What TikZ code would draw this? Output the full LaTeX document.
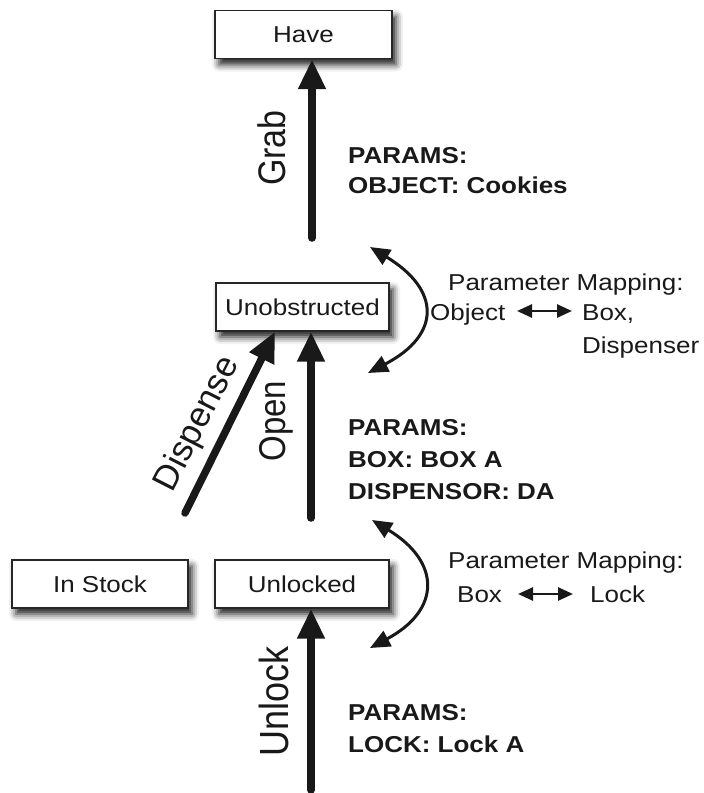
\documentclass[tikz,border=0pt]{standalone}
\usepackage{fontspec}
\setmainfont{Liberation Sans}[FakeStretch=1.13]
\newfontfamily\labelfont{Liberation Sans}
\usetikzlibrary{arrows.meta,shadows.blur,calc}

% upright action names are set a little wider across their own height
\newcommand{\actname}[1]{\scalebox{1}[1.13]{#1}}

\begin{document}
\begin{tikzpicture}[x=1pt,y=-1pt,
  state/.style={draw=black!85, line width=1.3pt, fill=white, minimum height=48pt,
    inner sep=0pt, text=black!90, font=\fontsize{23}{27}\selectfont,
    blur shadow={shadow xshift=4pt, shadow yshift=-6pt, shadow blur radius=7pt, shadow opacity=90}},
  bigarrow/.style={line width=7.5pt, draw=black!90, line cap=round, -{Triangle[width=26pt,length=30pt]}},
  maparrow/.style={line width=3pt, draw=black!90, {Triangle[width=17pt,length=20pt]}-{Triangle[width=17pt,length=20pt]}},
  swaparrow/.style={line width=2.6pt, draw=black!90, {Triangle[width=13pt,length=15pt]}-{Triangle[width=13pt,length=15pt]}},
  txt/.style={anchor=base west, inner sep=0pt, text=black!90, font=\fontsize{23}{27}\selectfont},
  param/.style={txt, font=\fontsize{23}{27}\selectfont\bfseries},
  act/.style={inner sep=0pt, text=black!90},
]
\useasboundingbox (0,0) rectangle (704,793);

% states
\node[state, minimum width=177pt] (have)     at (303.5,34.5) {Have};
\node[state, minimum width=173pt] (unob)     at (302.5,307)  {Unobstructed};
\node[state, minimum width=176pt] (instock)  at (100,584)    {In Stock};
\node[state, minimum width=174pt] (unlocked) at (302,584)    {Unlocked};

% actions
\coordinate (g0) at (312,238);
\draw[bigarrow] (g0) -- (g0 |- have.south);
\node[act, rotate=90, font=\labelfont\fontsize{34}{40}\selectfont] (grab) at (272,148) {\actname{Grab}};

\coordinate (o0) at (311,518);
\draw[bigarrow] (o0) -- (o0 |- unob.south);
\node[act, rotate=90, font=\labelfont\fontsize{33}{40}\selectfont] (open) at (276,421) {\actname{Open}};

\coordinate (d0) at (185,513);
\coordinate (d1) at ([xshift=-27.5pt]unob.south);
\draw[bigarrow] (d0) -- (d1);
\node[act, rotate=63, font=\labelfont\fontsize{35}{40}\selectfont] (dispense) at (198,424) {Dispense};

\coordinate (u0) at (311,790);
\draw[bigarrow] (u0) -- (u0 |- unlocked.south);
\node[act, rotate=90, font=\labelfont\fontsize{36}{40}\selectfont] (unlock) at (274,701) {\actname{Unlock}};

% parameters
\node[param] (p1a) at (348,163) {PARAMS:};
\node[param] (p1b) at (348,193) {OBJECT: Cookies};

\node[param] (p2a) at (348,435) {PARAMS:};
\node[param] (p2b) at (348,467) {BOX: BOX A};
\node[param] (p2c) at (348,499) {DISPENSOR: DA};

\node[param] (p3a) at (348,720) {PARAMS:};
\node[param] (p3b) at (348,752) {LOCK: Lock A};

% parameter mappings
\coordinate (m1a) at (370,247);
\coordinate (m1b) at (368,373);
\draw[maparrow] (m1a) .. controls (441,290) and (441,335) .. (m1b);
\node[txt] (pm1)  at (448,290) {Parameter Mapping:};
\node[txt] (obj)  at (430,320) {Object};
\node[txt] (box1) at (582,320) {Box,};
\node[txt] (disp) at (582,353) {Dispenser};
\coordinate (s1a) at (517,311);
\coordinate (s1b) at (572,311);
\draw[swaparrow] (s1a) -- (s1b);

\coordinate (m2a) at (372,520);
\coordinate (m2b) at (370,648);
\draw[maparrow] (m2a) .. controls (441,562) and (441,610) .. (m2b);
\node[txt] (pm2)  at (448,568) {Parameter Mapping:};
\node[txt] (box2) at (457,602) {Box};
\node[txt] (lock) at (590,602) {Lock};
\coordinate (s2a) at (518,594);
\coordinate (s2b) at (573,594);
\draw[swaparrow] (s2a) -- (s2b);
\end{tikzpicture}
\end{document}
